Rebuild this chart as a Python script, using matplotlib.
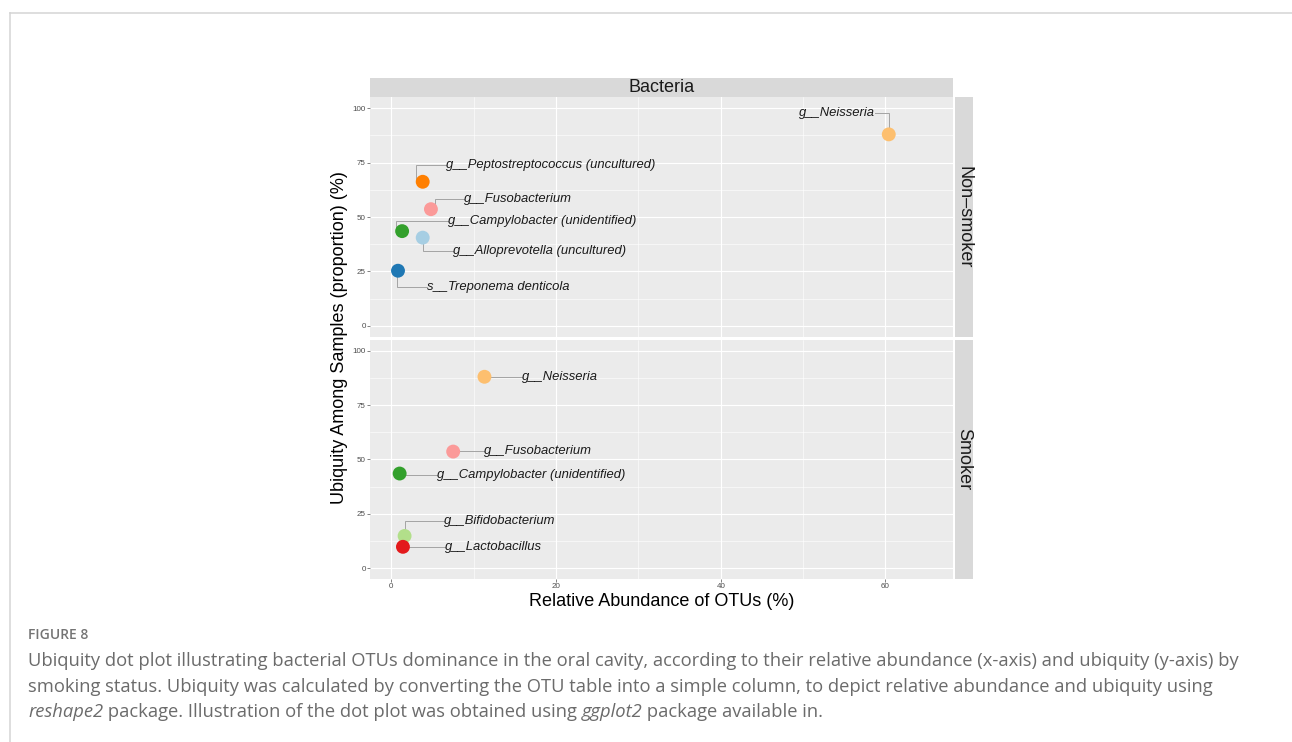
import numpy as np
import matplotlib as mpl
mpl.use("Agg")
import matplotlib.pyplot as plt
from matplotlib.lines import Line2D
from matplotlib.patches import Rectangle

# ---------------------------------------------------------------------------
# data: relative abundance (%) and ubiquity (%) of the dominant OTUs
# ---------------------------------------------------------------------------
nonsmoker_taxa = ["g__Neisseria", "g__Peptostreptococcus (uncultured)",
                  "g__Fusobacterium", "g__Campylobacter (unidentified)",
                  "g__Alloprevotella (uncultured)", "s__Treponema denticola"]
nonsmoker_abund = [60.4, 3.8, 4.8, 1.3, 3.8, 0.8]
nonsmoker_ubiq = [88.0, 66.2, 53.6, 43.5, 40.5, 25.3]

smoker_taxa = ["g__Neisseria", "g__Fusobacterium",
               "g__Campylobacter (unidentified)", "g__Bifidobacterium",
               "g__Lactobacillus"]
smoker_abund = [11.3, 7.5, 1.0, 1.6, 1.4]
smoker_ubiq = [88.0, 53.6, 43.5, 14.8, 9.8]

panel_names = ["Non\u2013smoker", "Smoker"]
x_ticks = [0, 20, 40, 60]
y_ticks = [0, 25, 50, 75, 100]

# RColorBrewer "Paired" colours per taxon
taxon_colors = {
    "g__Neisseria": "#FDBF6F",
    "g__Peptostreptococcus (uncultured)": "#FF7F00",
    "g__Fusobacterium": "#FB9A99",
    "g__Campylobacter (unidentified)": "#33A02C",
    "g__Alloprevotella (uncultured)": "#A6CEE3",
    "s__Treponema denticola": "#1F78B4",
    "g__Bifidobacterium": "#B2DF8A",
    "g__Lactobacillus": "#E31A1C",
}

# repelled label anchors (data units) and elbow x of the leader segments
nonsmoker_label_xy = [(58.75, 97.7), (6.6, 73.9), (8.85, 58.3),
                      (6.9, 48.0), (7.5, 34.4), (4.35, 17.8)]
nonsmoker_label_ha = ["right", "left", "left", "left", "left", "left"]
nonsmoker_elbow_x = [None, 3.0, 5.3, 0.55, 3.85, 0.7]

smoker_label_xy = [(15.8, 88.0), (11.25, 54.0), (5.5, 42.9),
                   (6.4, 21.9), (6.5, 9.9)]
smoker_label_ha = ["left"] * 5
smoker_elbow_x = [None] * 5

# ---------------------------------------------------------------------------
W, H = 1292, 742
fig = plt.figure(figsize=(W / 100, H / 100), dpi=100)
plt.rcParams["font.family"] = ["Liberation Sans", "DejaVu Sans"]

PANEL_BG = "#EBEBEB"
STRIP_BG = "#D9D9D9"
TXT = "#1A1A1A"


def px_axes(x0, y0, x1, y1):
    return fig.add_axes([x0 / W, 1 - y1 / H, (x1 - x0) / W, (y1 - y0) / H])


def fig_rect(x0, y0, x1, y1, color):
    fig.patches.append(Rectangle((x0 / W, 1 - y1 / H), (x1 - x0) / W, (y1 - y0) / H,
                                 transform=fig.transFigure, facecolor=color,
                                 edgecolor="none", zorder=0))


def draw_panel(ax, taxa, abund, ubiq, label_xy, label_ha, elbow_x, show_x):
    ax.set_facecolor(PANEL_BG)
    ax.set_xlim(-2.6, 68.2)
    ax.set_ylim(-5, 105)
    ax.set_xticks(x_ticks)
    ax.set_xticks([10, 30, 50], minor=True)
    ax.set_yticks(y_ticks)
    ax.set_yticks([12.5, 37.5, 62.5, 87.5], minor=True)
    ax.grid(which="major", color="white", lw=0.8)
    ax.grid(which="minor", color="white", lw=0.4)
    ax.set_axisbelow(True)
    for s in ax.spines.values():
        s.set_visible(False)
    ax.tick_params(which="major", length=2, width=0.5, color="#4D4D4D",
                   labelsize=5.8, labelcolor="#4D4D4D", pad=1)
    ax.tick_params(which="minor", length=0)
    if not show_x:
        ax.tick_params(axis="x", length=0, labelbottom=False)

    for name, x, y, (lx, ly), ha, ex in zip(taxa, abund, ubiq, label_xy,
                                             label_ha, elbow_x):
        cx = x if ex is None else ex
        ax.plot([lx, cx, cx], [ly, ly, y], color="#A3A3A3", lw=0.7,
                solid_joinstyle="miter", zorder=2)
        ax.scatter([x], [y], s=100, color=taxon_colors[name],
                   edgecolors="none", zorder=3)
        ax.text(lx, ly, name, ha=ha, va="center", style="italic",
                fontsize=9.4, color=TXT, zorder=4)


top = px_axes(370, 97.4, 953, 336.6)
bottom = px_axes(370, 339.8, 953, 579)
draw_panel(top, nonsmoker_taxa, nonsmoker_abund, nonsmoker_ubiq,
           nonsmoker_label_xy, nonsmoker_label_ha, nonsmoker_elbow_x, False)
draw_panel(bottom, smoker_taxa, smoker_abund, smoker_ubiq,
           smoker_label_xy, smoker_label_ha, smoker_elbow_x, True)

# facet strips
fig_rect(370, 78, 953, 97.4, STRIP_BG)
fig.text(661.5 / W, 1 - 88 / H, "Bacteria", ha="center", va="center",
         fontsize=13, color=TXT)
for (y0, y1), name in zip([(97.4, 336.6), (339.8, 579)], panel_names):
    fig_rect(955, y0, 973, y1, STRIP_BG)
    fig.text(964 / W, 1 - (y0 + y1) / 2 / H, name, ha="center", va="center",
             rotation=-90, fontsize=13, color=TXT)

# axis titles
fig.text(661.5 / W, 1 - 602 / H, "Relative Abundance of OTUs (%)",
         ha="center", va="center", fontsize=13, color="black")
fig.text(339.5 / W, 1 - 338 / H, "Ubiquity Among Samples (proportion) (%)",
         ha="center", va="center", rotation=90, fontsize=13, color="black")

# page frame
fig.add_artist(Line2D([9.5 / W, 9.5 / W], [1 - 12.5 / H, 0], transform=fig.transFigure,
                      color="#D4D4D4", lw=1.1))
fig.add_artist(Line2D([9.5 / W, 1], [1 - 12.5 / H, 1 - 12.5 / H],
                      transform=fig.transFigure, color="#D4D4D4", lw=1.1))

# caption
CAP = "#6B6B6B"
cap_font = ["Open Sans", "DejaVu Sans"]
fig.text(28 / W, 1 - 635 / H, "FIGURE 8", ha="left", va="center",
         fontsize=10, fontweight="semibold", color="#747474", family=cap_font)

renderer = fig.canvas.get_renderer()


def text_runs(x_px, y_px, runs):
    x = x_px
    for txt, style in runs:
        t = fig.text(x / W, 1 - y_px / H, txt, ha="left", va="center",
                     fontsize=13.2, color=CAP, style=style, family=cap_font)
        x += t.get_window_extent(renderer).width


caption_lines = [
    [("Ubiquity dot plot illustrating bacterial OTUs dominance in the oral cavity, "
      "according to their relative abundance (x-axis) and ubiquity (y-axis) by", "normal")],
    [("smoking status. Ubiquity was calculated by converting the OTU table into a "
      "simple column, to depict relative abundance and ubiquity using", "normal")],
    [("reshape2", "italic"),
     (" package. Illustration of the dot plot was obtained using ", "normal"),
     ("ggplot2", "italic"), (" package available in.", "normal")],
]
for y_px, runs in zip([661, 686.5, 712], caption_lines):
    text_runs(28, y_px, runs)

fig.savefig("out.png", dpi=100)
